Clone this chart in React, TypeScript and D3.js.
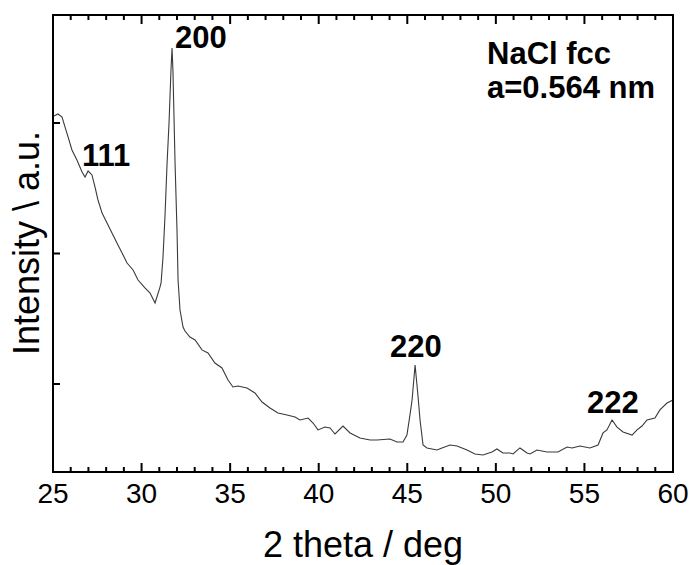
import React from "react";
import * as d3 from "d3";

// 2-theta (deg) values of the trace
const twoTheta: number[] = [
  25.06, 25.28, 25.51, 25.68, 25.85, 26.07, 26.35, 26.64, 26.81, 26.98, 27.2, 27.37, 27.54, 27.77,
  28.05, 28.33, 28.61, 28.9, 29.18, 29.52, 29.8, 30.19, 30.48, 30.76, 31.04, 31.1, 31.21, 31.32,
  31.44, 31.55, 31.66, 31.72, 31.77, 31.89, 32.0, 32.06, 32.17, 32.34, 32.45, 32.73, 33.02, 33.41,
  33.75, 34.14, 34.54, 34.88, 35.16, 35.44, 35.95, 36.4, 36.8, 37.25, 37.7, 38.21, 38.66, 38.94,
  39.4, 39.68, 39.96, 40.35, 40.64, 40.92, 41.37, 41.77, 42.33, 42.9, 43.29, 44.02, 44.42, 44.76,
  44.98, 45.15, 45.27, 45.44, 45.6, 45.72, 45.89, 46.11, 46.68, 46.96, 47.41, 47.81, 48.37, 48.82,
  49.27, 49.78, 50.06, 50.4, 50.8, 50.97, 51.36, 51.76, 51.93, 52.32, 52.89, 53.51, 54.02, 54.3,
  54.75, 55.31, 55.77, 56.05, 56.27, 56.56, 56.84, 57.18, 57.69, 57.97, 58.25, 58.53, 58.98, 59.26,
  59.66, 60.0,
];

// intensity (a.u.)
const intensity: number[] = [
  3054, 3069, 3046, 2969, 2893, 2793, 2716, 2625, 2586, 2632, 2602, 2510, 2410, 2310,
  2234, 2157, 2080, 2004, 1927, 1874, 1797, 1736, 1697, 1621, 1743, 1774, 1973, 2280,
  2694, 3000, 3406, 3575, 3406, 2694, 2180, 1797, 1567, 1437, 1406, 1360, 1337, 1261,
  1238, 1161, 1123, 1031, 977, 985, 969, 931, 862, 816, 778, 762, 747, 724,
  739, 701, 648, 670, 663, 617, 678, 625, 586, 571, 571, 579, 556, 556,
  609, 762, 877, 1146, 916, 724, 533, 510, 494, 510, 533, 525, 494, 464,
  456, 479, 502, 471, 471, 464, 510, 471, 464, 494, 479, 479, 517, 510,
  525, 510, 533, 625, 648, 724, 670, 632, 609, 648, 678, 724, 739, 801,
  854, 877,
];

const xMajorTicks: number[] = [25, 30, 35, 40, 45, 50, 55, 60];
const xMinorTicks: number[] = d3.range(25, 61, 1);
const yTicks: number[] = [1000, 2000, 3000];

const peakLabels: string[] = ["111", "200", "220", "222"];
const peakX: number[] = [26.64, 31.89, 44.02, 55.15];
const peakY: number[] = [2671, 3575, 1207, 778];

const xTitle = "2 theta / deg";
const yTitle = "Intensity \\ a.u.";
const noteLines: string[] = ["NaCl fcc", "a=0.564 nm"];

const W = 691;
const H = 565;
const M = { left: 53, right: 673, top: 15, bottom: 472 };

export default function App() {
  const x = d3.scaleLinear().domain([25, 60]).range([M.left, M.right]);
  const y = d3.scaleLinear().domain([1000, 3000]).range([384, 123]);

  const pts: [number, number][] = twoTheta.map((t, i) => [t, intensity[i]]);
  const line = d3
    .line<[number, number]>()
    .x((d) => x(d[0]))
    .y((d) => y(d[1]));

  const font = "'Liberation Sans', Arial, sans-serif";

  return (
    <svg
      width={W}
      height={H}
      style={{ position: "absolute", left: 0, top: 0, background: "#fff" }}
      fontFamily={font}
    >
      <rect x={0} y={0} width={W} height={H} fill="#fff" />
      <path d={line(pts) || ""} fill="none" stroke="#3a3a3a" strokeWidth={1.1} />

      {xMinorTicks
        .filter((t) => !xMajorTicks.includes(t))
        .map((t) => (
          <g key={"mn" + t}>
            <line x1={x(t)} x2={x(t)} y1={M.bottom} y2={M.bottom - 5} stroke="#000" strokeWidth={2} />
            <line x1={x(t)} x2={x(t)} y1={M.top} y2={M.top + 5} stroke="#000" strokeWidth={2} />
          </g>
        ))}
      {xMajorTicks.map((t) => (
        <g key={"mj" + t}>
          <line x1={x(t)} x2={x(t)} y1={M.bottom} y2={M.bottom - 9} stroke="#000" strokeWidth={2} />
          <line x1={x(t)} x2={x(t)} y1={M.top} y2={M.top + 9} stroke="#000" strokeWidth={2} />
          <text x={x(t)} y={503} fontSize={28} textAnchor="middle" fill="#000">
            {t}
          </text>
        </g>
      ))}
      {yTicks.map((v) => (
        <line key={"yt" + v} x1={M.left} x2={M.left + 7} y1={y(v)} y2={y(v)} stroke="#000" strokeWidth={2} />
      ))}

      <rect
        x={M.left}
        y={M.top}
        width={M.right - M.left}
        height={M.bottom - M.top}
        fill="none"
        stroke="#000"
        strokeWidth={2}
      />

      {peakLabels.map((s, i) => (
        <text key={s} x={x(peakX[i])} y={y(peakY[i])} fontSize={31} fontWeight="bold" fill="#000">
          {s}
        </text>
      ))}

      {noteLines.map((s, i) => (
        <text key={s} x={487} y={64 + i * 34} fontSize={31} fontWeight="bold" fill="#000">
          {s}
        </text>
      ))}

      <text x={(M.left + M.right) / 2} y={557} fontSize={36} textAnchor="middle" fill="#000">
        {xTitle}
      </text>
      <text
        transform={`translate(39, ${243}) rotate(-90)`}
        fontSize={36}
        textAnchor="middle"
        fill="#000"
      >
        {yTitle}
      </text>
    </svg>
  );
}
